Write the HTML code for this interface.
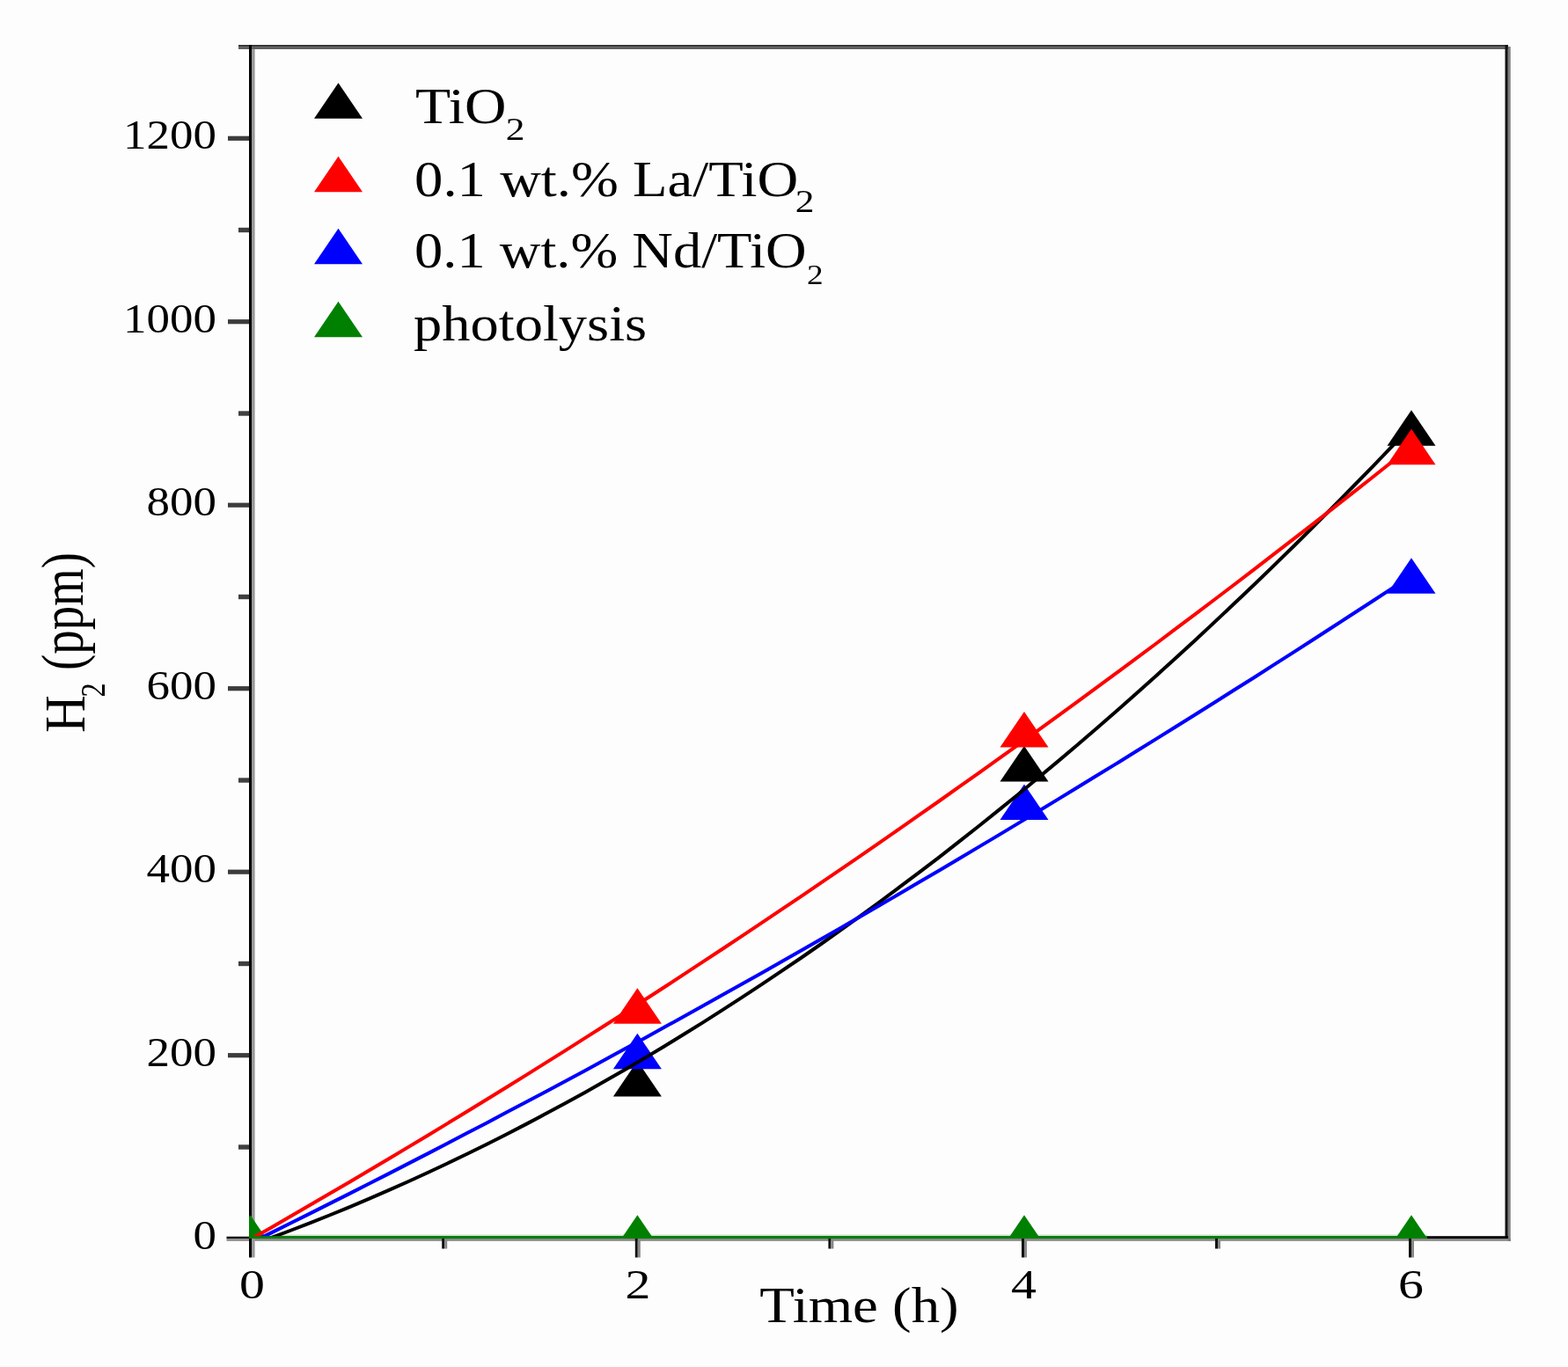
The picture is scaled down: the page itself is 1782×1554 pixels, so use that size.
<!DOCTYPE html><html><head><meta charset="utf-8"><style>html,body{margin:0;padding:0;background:#fdfdfd;}svg{display:block;}</style></head><body><svg width="1782" height="1554" viewBox="0 0 1782 1554">
<rect width="1782" height="1554" fill="#fdfdfd"/>
<rect x="271" y="51" width="1443" height="2.5" fill="#383838"/>
<rect x="271" y="53.5" width="1443" height="2.3" fill="#4f4f4f"/>
<rect x="283" y="1408" width="1434" height="2.8" fill="#888"/>
<rect x="286" y="56" width="3.6" height="1373.5" fill="#9a9a9a"/>
<rect x="283" y="51" width="3" height="1378.5" fill="#000"/>
<rect x="1713.7" y="53" width="3" height="1358" fill="#7d7d7d"/>
<rect x="1710.5" y="51" width="3.2" height="1357" fill="#111"/>
<rect x="283" y="1405.2" width="1431" height="2.8" fill="#000"/>
<rect x="257.5" y="1405.7" width="25.5" height="2.6" fill="#111"/>
<rect x="257.5" y="1408.3" width="25.5" height="2.5" fill="#8a8a8a"/>
<rect x="259" y="1197.1" width="24" height="5.2" fill="#3c3c3c"/>
<rect x="259" y="988.6" width="24" height="5.2" fill="#3c3c3c"/>
<rect x="259" y="780.1" width="24" height="5.2" fill="#3c3c3c"/>
<rect x="259" y="571.6" width="24" height="5.2" fill="#3c3c3c"/>
<rect x="259" y="363.1" width="24" height="5.2" fill="#3c3c3c"/>
<rect x="259" y="154.7" width="24" height="5.2" fill="#3c3c3c"/>
<rect x="271" y="1301.3" width="12" height="5.4" fill="#404040"/>
<rect x="271" y="1092.8" width="12" height="5.4" fill="#404040"/>
<rect x="271" y="884.3" width="12" height="5.4" fill="#404040"/>
<rect x="271" y="675.8" width="12" height="5.4" fill="#404040"/>
<rect x="271" y="467.3" width="12" height="5.4" fill="#404040"/>
<rect x="271" y="258.8" width="12" height="5.4" fill="#404040"/>
<rect x="721.8" y="1408" width="3" height="21.5" fill="#111"/>
<rect x="724.8" y="1408" width="3" height="21.5" fill="#888"/>
<rect x="1161.0" y="1408" width="3" height="21.5" fill="#111"/>
<rect x="1164.0" y="1408" width="3" height="21.5" fill="#888"/>
<rect x="1601.0" y="1408" width="3" height="21.5" fill="#111"/>
<rect x="1604.0" y="1408" width="3" height="21.5" fill="#888"/>
<rect x="502.2" y="1408" width="3" height="11.5" fill="#111"/>
<rect x="505.2" y="1408" width="3" height="11.5" fill="#888"/>
<rect x="941.4" y="1408" width="3" height="11.5" fill="#111"/>
<rect x="944.4" y="1408" width="3" height="11.5" fill="#888"/>
<rect x="1381.0" y="1408" width="3" height="11.5" fill="#111"/>
<rect x="1384.0" y="1408" width="3" height="11.5" fill="#888"/>
<defs><clipPath id="pa"><rect x="283" y="56" width="1427" height="1352"/></clipPath></defs>
<g clip-path="url(#pa)">
<rect x="283" y="1403.3" width="1339" height="1.9" fill="#cfe6cf"/>
<polygon points="696.9,1246.5 724.4,1205.9 751.9,1246.5" fill="#000"/>
<polygon points="1136.5,888.6 1164.0,848.0 1191.5,888.6" fill="#000"/>
<polygon points="1576.5,506.8 1604.0,466.2 1631.5,506.8" fill="#000"/>
<polygon points="696.9,1163.8 724.4,1123.2 751.9,1163.8" fill="#f00"/>
<polygon points="1136.5,849.5 1164.0,808.9 1191.5,849.5" fill="#f00"/>
<polygon points="1576.5,528.2 1604.0,487.6 1631.5,528.2" fill="#f00"/>
<polygon points="696.9,1215.3 724.4,1174.7 751.9,1215.3" fill="#00f"/>
<polygon points="1136.5,932.0 1164.0,891.4 1191.5,932.0" fill="#00f"/>
<polygon points="1576.5,674.8 1604.0,634.2 1631.5,674.8" fill="#00f"/>
<polygon points="257.0,1421.8 284.5,1381.2 312.0,1421.8" fill="#008000"/>
<polygon points="696.9,1421.8 724.4,1381.2 751.9,1421.8" fill="#008000"/>
<polygon points="1136.5,1421.8 1164.0,1381.2 1191.5,1421.8" fill="#008000"/>
<polygon points="1576.5,1421.8 1604.0,1381.2 1631.5,1421.8" fill="#008000"/>
<polyline points="285.0,1415.5 307.4,1407.4 329.7,1399.0 352.1,1390.4 374.4,1381.5 396.8,1372.3 419.1,1362.9 441.5,1353.2 463.8,1343.2 486.2,1333.0 508.6,1322.5 530.9,1311.8 553.3,1300.7 575.6,1289.5 598.0,1277.9 620.3,1266.1 642.7,1254.0 665.1,1241.7 687.4,1229.1 709.8,1216.2 732.1,1203.1 754.5,1189.7 776.8,1176.0 799.2,1162.1 821.5,1147.9 843.9,1133.4 866.3,1118.7 888.6,1103.7 911.0,1088.5 933.3,1073.0 955.7,1057.2 978.0,1041.1 1000.4,1024.8 1022.7,1008.2 1045.1,991.4 1067.5,974.3 1089.8,956.9 1112.2,939.3 1134.5,921.4 1156.9,903.3 1179.2,884.8 1201.6,866.1 1223.9,847.2 1246.3,828.0 1268.7,808.5 1291.0,788.7 1313.4,768.7 1335.7,748.4 1358.1,727.9 1380.4,707.1 1402.8,686.0 1425.2,664.7 1447.5,643.1 1469.9,621.2 1492.2,599.1 1514.6,576.7 1536.9,554.0 1559.3,531.1 1581.6,507.9 1604.0,484.5" fill="none" stroke="#000" stroke-width="4"/>
<polyline points="285.0,1412.9 307.4,1401.9 329.7,1390.8 352.1,1379.6 374.4,1368.4 396.8,1357.1 419.1,1345.8 441.5,1334.4 463.8,1322.9 486.2,1311.4 508.6,1299.8 530.9,1288.1 553.3,1276.4 575.6,1264.6 598.0,1252.8 620.3,1240.9 642.7,1228.9 665.1,1216.9 687.4,1204.8 709.8,1192.6 732.1,1180.4 754.5,1168.1 776.8,1155.7 799.2,1143.3 821.5,1130.8 843.9,1118.3 866.3,1105.7 888.6,1093.0 911.0,1080.3 933.3,1067.5 955.7,1054.7 978.0,1041.8 1000.4,1028.8 1022.7,1015.7 1045.1,1002.6 1067.5,989.5 1089.8,976.2 1112.2,962.9 1134.5,949.6 1156.9,936.1 1179.2,922.7 1201.6,909.1 1223.9,895.5 1246.3,881.8 1268.7,868.1 1291.0,854.3 1313.4,840.4 1335.7,826.5 1358.1,812.5 1380.4,798.5 1402.8,784.3 1425.2,770.2 1447.5,755.9 1469.9,741.6 1492.2,727.3 1514.6,712.8 1536.9,698.3 1559.3,683.8 1581.6,669.2 1604.0,654.5" fill="none" stroke="#00f" stroke-width="4"/>
<polyline points="285.0,1408.7 307.4,1395.9 329.7,1383.1 352.1,1370.1 374.4,1357.1 396.8,1344.0 419.1,1330.8 441.5,1317.5 463.8,1304.1 486.2,1290.7 508.6,1277.1 530.9,1263.5 553.3,1249.8 575.6,1236.0 598.0,1222.1 620.3,1208.1 642.7,1194.1 665.1,1179.9 687.4,1165.7 709.8,1151.4 732.1,1137.0 754.5,1122.5 776.8,1107.9 799.2,1093.2 821.5,1078.5 843.9,1063.6 866.3,1048.7 888.6,1033.7 911.0,1018.6 933.3,1003.4 955.7,988.1 978.0,972.8 1000.4,957.3 1022.7,941.8 1045.1,926.2 1067.5,910.5 1089.8,894.7 1112.2,878.8 1134.5,862.8 1156.9,846.8 1179.2,830.6 1201.6,814.4 1223.9,798.1 1246.3,781.7 1268.7,765.2 1291.0,748.6 1313.4,732.0 1335.7,715.2 1358.1,698.4 1380.4,681.5 1402.8,664.5 1425.2,647.4 1447.5,630.2 1469.9,612.9 1492.2,595.6 1514.6,578.2 1536.9,560.6 1559.3,543.0 1581.6,525.3 1604.0,507.5" fill="none" stroke="#f00" stroke-width="4"/>
<rect x="283" y="1405.2" width="1339" height="2.8" fill="#008000"/>
</g>
<text transform="translate(246.09 1420.30) scale(1.1200 1)" text-anchor="end" font-family="'Liberation Serif', 'Times New Roman', serif" font-size="47.3" fill="#000">0</text>
<text transform="translate(246.04 1212.30) scale(1.1200 1)" text-anchor="end" font-family="'Liberation Serif', 'Times New Roman', serif" font-size="47.3" fill="#000">200</text>
<text transform="translate(245.97 1003.30) scale(1.1200 1)" text-anchor="end" font-family="'Liberation Serif', 'Times New Roman', serif" font-size="47.3" fill="#000">400</text>
<text transform="translate(246.04 795.30) scale(1.1200 1)" text-anchor="end" font-family="'Liberation Serif', 'Times New Roman', serif" font-size="47.3" fill="#000">600</text>
<text transform="translate(246.04 586.30) scale(1.1200 1)" text-anchor="end" font-family="'Liberation Serif', 'Times New Roman', serif" font-size="47.3" fill="#000">800</text>
<text transform="translate(245.96 378.30) scale(1.1200 1)" text-anchor="end" font-family="'Liberation Serif', 'Times New Roman', serif" font-size="47.3" fill="#000">1000</text>
<text transform="translate(245.96 169.30) scale(1.1200 1)" text-anchor="end" font-family="'Liberation Serif', 'Times New Roman', serif" font-size="47.3" fill="#000">1200</text>
<text transform="translate(286.46 1476.00) scale(1.2300 1)" text-anchor="middle" font-family="'Liberation Serif', 'Times New Roman', serif" font-size="47.0" fill="#000">0</text>
<text transform="translate(725.01 1476.00) scale(1.2300 1)" text-anchor="middle" font-family="'Liberation Serif', 'Times New Roman', serif" font-size="47.0" fill="#000">2</text>
<text transform="translate(1163.51 1476.00) scale(1.2300 1)" text-anchor="middle" font-family="'Liberation Serif', 'Times New Roman', serif" font-size="47.0" fill="#000">4</text>
<text transform="translate(1603.55 1476.00) scale(1.2300 1)" text-anchor="middle" font-family="'Liberation Serif', 'Times New Roman', serif" font-size="47.0" fill="#000">6</text>
<text transform="translate(863.30 1502.80) scale(1.1441 1)" text-anchor="start" font-family="'Liberation Serif', 'Times New Roman', serif" font-size="56.7" fill="#000">Time (h)</text>
<text transform="translate(95.99 832.99) rotate(-90) scale(1.0761 1.2060)" font-family="'Liberation Serif', 'Times New Roman', serif" font-size="55" fill="#000">H</text>
<text transform="translate(118.75 792.48) rotate(-90) scale(0.9186 1.1719)" font-family="'Liberation Serif', 'Times New Roman', serif" font-size="35" fill="#000">2</text>
<text transform="translate(94.12 761.99) rotate(-90) scale(0.9970 1.2149)" font-family="'Liberation Serif', 'Times New Roman', serif" font-size="55" fill="#000">(ppm)</text>
<polygon points="357.0,134.8 384.5,94.2 412.0,134.8" fill="#000"/>
<polygon points="357.0,218.3 384.5,177.7 412.0,218.3" fill="#f00"/>
<polygon points="357.0,300.3 384.5,259.7 412.0,300.3" fill="#00f"/>
<polygon points="357.0,383.3 384.5,342.7 412.0,383.3" fill="#008000"/>
<text transform="translate(471.96 140.30) scale(1.1523 1)" text-anchor="start" font-family="'Liberation Serif', 'Times New Roman', serif" font-size="57" fill="#000">TiO</text>
<text transform="translate(471.09 222.50) scale(1.1353 1)" text-anchor="start" font-family="'Liberation Serif', 'Times New Roman', serif" font-size="57" fill="#000">0.1 wt.% La/TiO</text>
<text transform="translate(471.09 304.40) scale(1.1318 1)" text-anchor="start" font-family="'Liberation Serif', 'Times New Roman', serif" font-size="57" fill="#000">0.1 wt.% Nd/TiO</text>
<text transform="translate(470.00 387.30) scale(1.1314 1)" text-anchor="start" font-family="'Liberation Serif', 'Times New Roman', serif" font-size="57" fill="#000">photolysis</text>
<text transform="translate(574.73 159.03) scale(1.2447 1)" text-anchor="start" font-family="'Liberation Serif', 'Times New Roman', serif" font-size="34.896" fill="#000">2</text>
<text transform="translate(903.63 241.00) scale(1.1912 1)" text-anchor="start" font-family="'Liberation Serif', 'Times New Roman', serif" font-size="36.462" fill="#000">2</text>
<text transform="translate(917.07 322.89) scale(1.1441 1)" text-anchor="start" font-family="'Liberation Serif', 'Times New Roman', serif" font-size="32.582" fill="#000">2</text>
</svg></body></html>
